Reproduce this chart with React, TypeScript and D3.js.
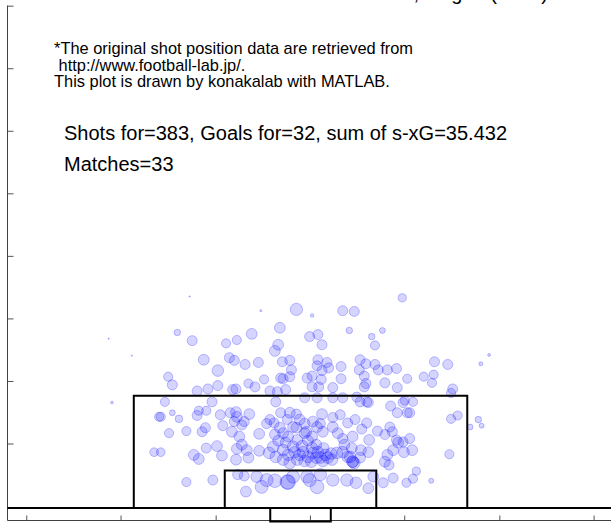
import React from 'react';
import * as d3 from 'd3';

const W = 611;
const H = 523;

// pitch geometry in metres: x measured from the pitch centre line, y from the goal line
const penaltyBox = { halfWidth: 20.16, depth: 16.5 };
const goalArea = { halfWidth: 9.16, depth: 5.5 };
const goalMouth = { halfWidth: 3.66, depth: -2.0 };

const xDomain = [-35.43, 38.0];
const yDomain = [-1.85, 73.9];
const xTicks = [-33.1, -21.7, -10.2, 1.2, 12.6, 24.1, 35.5];
const yTicks = [9.4, 18.6, 27.8, 37.0, 46.2, 55.4, 64.6, 73.8];

const titleText = 'Kashima Antlers, league (2019)';
const noteLines = [
  '*The original shot position data are retrieved from',
  ' http://www.football-lab.jp/.',
  'This plot is drawn by konakalab with MATLAB.',
];
const statLines = ['Shots for=383, Goals for=32, sum of s-xG=35.432', 'Matches=33'];

// shots: [x (m), y (m), s-xG]
const shots: [number, number, number][] = [
  [12.3, 30.9, 0.08], [-0.5, 29.2, 0.18], [5.1, 29.0, 0.12], [6.5, 28.9, 0.12], [1.4, 28.3, 0.015],
  [-4.8, 29.0, 0.005], [-13.4, 31.1, 0.002], [-14.9, 25.8, 0.05], [-13.1, 24.6, 0.12], [-9.0, 24.2, 0.1],
  [-7.7, 24.7, 0.1], [-5.9, 25.6, 0.14], [-2.5, 26.5, 0.14], [-2.7, 24.0, 0.14], [-3.1, 23.1, 0.14],
  [1.1, 25.2, 0.12], [2.1, 25.5, 0.12], [2.6, 24.0, 0.12], [5.9, 26.1, 0.05], [8.6, 25.2, 0.05],
  [9.9, 26.1, 0.04], [9.0, 23.9, 0.1], [22.8, 22.5, 0.01], [21.8, 21.2, 0.02], [-23.2, 24.9, 0.002],
  [-20.4, 22.4, 0.002], [-22.8, 15.5, 0.008], [-11.7, 21.8, 0.14], [-10.0, 20.2, 0.16], [-8.6, 22.1, 0.12],
  [-8.0, 21.7, 0.12], [-6.7, 21.1, 0.12], [-5.1, 21.4, 0.12], [-2.2, 21.5, 0.12], [-1.3, 21.7, 0.12],
  [-1.1, 20.3, 0.12], [2.1, 21.8, 0.12], [2.0, 20.9, 0.12], [3.2, 21.4, 0.12], [3.4, 20.6, 0.12],
  [2.6, 20.2, 0.12], [4.9, 20.8, 0.12], [7.2, 21.8, 0.12], [7.9, 21.2, 0.12], [7.1, 20.3, 0.12],
  [9.0, 21.1, 0.12], [9.4, 20.3, 0.12], [10.5, 20.3, 0.12], [11.6, 20.5, 0.12], [16.2, 21.5, 0.12],
  [17.8, 21.1, 0.12], [-16.0, 19.3, 0.1], [-15.5, 18.1, 0.12], [-12.5, 17.2, 0.12], [-11.2, 17.5, 0.12],
  [-10.0, 18.0, 0.12], [-8.2, 17.4, 0.12], [-7.8, 17.5, 0.12], [-6.3, 18.3, 0.1], [-5.5, 17.8, 0.12],
  [-4.4, 18.9, 0.1], [-3.7, 17.2, 0.12], [-2.8, 17.1, 0.12], [-2.4, 19.1, 0.12], [-2.1, 19.0, 0.12],
  [-1.8, 17.4, 0.12], [-1.3, 19.3, 0.12], [0.8, 19.1, 0.12], [1.4, 19.4, 0.12], [2.5, 18.9, 0.12],
  [2.2, 17.8, 0.12], [1.4, 17.8, 0.12], [3.9, 17.7, 0.12], [4.9, 19.0, 0.12], [7.7, 19.4, 0.12],
  [7.9, 18.3, 0.12], [7.7, 17.8, 0.12], [10.2, 18.4, 0.12], [11.7, 17.7, 0.12], [12.9, 19.0, 0.1],
  [14.9, 19.3, 0.1], [16.1, 19.6, 0.1], [15.9, 18.4, 0.1], [18.4, 17.5, 0.12], [18.2, 16.9, 0.1],
  [-16.4, 15.6, 0.1], [-17.1, 13.4, 0.1], [-16.9, 13.4, 0.1], [-15.5, 14.0, 0.04], [-14.7, 13.1, 0.07],
  [-12.3, 14.3, 0.1], [-12.5, 13.6, 0.12], [-11.4, 14.3, 0.1], [-10.7, 15.6, 0.12], [-9.7, 13.7, 0.12],
  [-8.5, 14.0, 0.12], [-7.8, 14.1, 0.14], [-7.7, 13.4, 0.14], [-8.0, 12.7, 0.12], [-6.2, 13.8, 0.14],
  [-6.8, 12.7, 0.12], [-3.0, 15.6, 0.12], [-2.4, 14.0, 0.12], [-1.3, 14.0, 0.14], [-0.5, 13.8, 0.12],
  [-3.2, 12.5, 0.12], [-1.6, 13.0, 0.12], [0.5, 12.4, 0.14], [1.5, 12.7, 0.14], [2.4, 12.4, 0.12],
  [2.6, 13.8, 0.14], [3.9, 13.3, 0.12], [4.8, 13.7, 0.12], [5.7, 12.5, 0.12], [6.6, 13.0, 0.12],
  [8.0, 12.5, 0.12], [7.2, 15.6, 0.12], [8.0, 15.6, 0.12], [10.9, 15.0, 0.12], [11.7, 14.0, 0.12],
  [13.2, 14.0, 0.12], [13.6, 15.6, 0.1], [12.6, 15.8, 0.1], [18.2, 13.1, 0.1], [19.0, 13.6, 0.1],
  [21.5, 13.0, 0.05], [21.9, 12.1, 0.03], [20.5, 11.9, 0.04], [0.5, 16.2, 0.12], [2.0, 16.2, 0.12],
  [3.9, 16.2, 0.12], [5.1, 16.2, 0.12], [6.8, 16.3, 0.12], [8.2, 15.5, 0.12], [12.4, 15.5, 0.12],
  [12.9, 14.0, 0.12], [-15.9, 11.0, 0.1], [-13.8, 11.3, 0.1], [-11.9, 11.2, 0.12], [-11.5, 11.8, 0.12],
  [-9.4, 12.1, 0.12], [-8.3, 11.2, 0.14], [-7.4, 10.5, 0.14], [-7.1, 12.2, 0.12], [-5.0, 10.9, 0.14],
  [-4.1, 12.4, 0.12], [-3.1, 10.8, 0.14], [-2.1, 11.0, 0.14], [-1.5, 10.5, 0.14], [-0.9, 11.9, 0.14],
  [0.5, 11.0, 0.14], [1.4, 10.5, 0.14], [2.0, 11.9, 0.14], [2.7, 11.2, 0.14], [3.9, 11.9, 0.14],
  [4.5, 11.0, 0.14], [5.1, 10.2, 0.12], [6.3, 10.5, 0.14], [7.4, 11.6, 0.12], [8.3, 10.0, 0.14],
  [9.3, 11.3, 0.12], [10.2, 10.8, 0.12], [10.8, 11.9, 0.12], [11.1, 11.2, 0.12], [11.6, 10.0, 0.12],
  [12.4, 9.7, 0.12], [13.2, 10.2, 0.12], [-17.7, 8.2, 0.09], [-16.9, 8.2, 0.09], [-12.9, 7.8, 0.14],
  [-12.3, 7.2, 0.14], [-11.4, 8.8, 0.12], [-10.1, 9.1, 0.14], [-9.5, 7.7, 0.14], [-7.8, 7.1, 0.14],
  [-7.7, 8.7, 0.14], [-6.5, 8.5, 0.14], [-6.3, 7.4, 0.14], [-7.1, 9.3, 0.14], [-5.0, 8.4, 0.14],
  [-3.8, 8.1, 0.16], [-3.3, 9.0, 0.16], [-3.0, 7.5, 0.16], [-2.1, 8.5, 0.16], [-1.5, 7.8, 0.16],
  [-0.9, 9.0, 0.16], [-0.4, 7.1, 0.16], [0.3, 8.2, 0.16], [0.9, 7.5, 0.16], [1.5, 8.1, 0.16],
  [2.4, 7.4, 0.16], [3.0, 7.8, 0.16], [3.8, 7.1, 0.16], [4.4, 8.1, 0.16], [5.1, 8.2, 0.16],
  [6.0, 7.5, 0.16], [6.5, 6.6, 0.16], [7.3, 8.5, 0.14], [8.2, 8.2, 0.14], [7.2, 7.4, 0.14],
  [10.2, 6.8, 0.14], [10.5, 7.8, 0.14], [11.2, 8.5, 0.14], [11.8, 9.6, 0.14], [12.5, 8.2, 0.14],
  [13.5, 8.5, 0.14], [10.7, 6.3, 0.12], [18.0, 7.9, 0.1], [-13.8, 3.8, 0.1], [-10.6, 4.1, 0.12],
  [-6.6, 2.4, 0.14], [-7.6, 4.9, 0.12], [-6.8, 4.7, 0.12], [-5.3, 4.6, 0.16], [-4.7, 3.1, 0.2],
  [-4.1, 4.1, 0.2], [-3.1, 4.0, 0.22], [-1.6, 3.8, 0.25], [-1.5, 3.8, 0.25], [-0.9, 4.6, 0.2],
  [0.8, 4.6, 0.2], [2.0, 3.1, 0.22], [1.1, 4.1, 0.2], [2.4, 4.9, 0.18], [3.9, 4.1, 0.18],
  [5.6, 4.1, 0.18], [6.7, 3.7, 0.16], [8.2, 2.9, 0.14], [8.8, 4.6, 0.14], [10.0, 3.7, 0.12],
  [11.2, 4.4, 0.12], [12.8, 3.7, 0.1], [13.6, 4.3, 0.1], [14.0, 5.4, 0.08], [15.8, 4.0, 0.03],
  [-0.1, 7.8, 0.16], [0.5, 6.9, 0.16], [1.3, 6.8, 0.16], [1.9, 7.4, 0.16], [2.1, 8.2, 0.16],
  [2.7, 6.9, 0.16], [3.3, 7.4, 0.16], [3.7, 8.0, 0.16], [1.4, 8.8, 0.16], [0.2, 9.1, 0.16],
  [-0.7, 8.2, 0.16], [-2.1, 7.1, 0.16], [-1.3, 6.6, 0.16], [-2.7, 9.9, 0.14], [-1.8, 9.6, 0.14],
  [-0.4, 10.0, 0.14], [0.9, 9.9, 0.14], [1.9, 9.3, 0.14], [2.8, 8.8, 0.14], [-0.5, 11.8, 0.14],
  [-0.1, 13.0, 0.14], [0.7, 11.2, 0.14], [-3.7, 13.0, 0.12], [-2.5, 11.8, 0.14], [5.3, 9.3, 0.14],
  [6.2, 8.8, 0.14], [5.7, 7.5, 0.16], [6.3, 6.8, 0.16], [6.3, 6.8, 0.16],
];

const font = '"Liberation Sans", Arial, sans-serif';

export default function App() {
  const x = d3.scaleLinear().domain(xDomain).range([7.5, 614.8]);
  const y = d3.scaleLinear().domain(yDomain).range([520.5, 5.5]);
  const r = d3.scaleSqrt().domain([0, 1]).range([0, 14.5]);

  const boxPath = (b: { halfWidth: number; depth: number }) => {
    const p = d3.path();
    p.moveTo(x(-b.halfWidth), y(0));
    p.lineTo(x(-b.halfWidth), y(b.depth));
    p.lineTo(x(b.halfWidth), y(b.depth));
    p.lineTo(x(b.halfWidth), y(0));
    return p.toString();
  };

  return (
    <svg
      width={W}
      height={H}
      style={{ position: 'absolute', left: 0, top: 0, background: '#fff' }}
      fontFamily={font}
    >
      <text x={548} y={-0.5} textAnchor="end" fontSize={20} fill="#000">
        {titleText}
      </text>

      {/* axes */}
      <line x1={x(xDomain[0])} x2={x(xDomain[0])} y1={y(yDomain[1])} y2={y(yDomain[0])} stroke="#404040" strokeWidth={1} />
      <line x1={x(xDomain[0])} x2={W} y1={y(yDomain[0])} y2={y(yDomain[0])} stroke="#404040" strokeWidth={1} />
      {yTicks.map((t) => (
        <line key={'yt' + t} x1={x(xDomain[0])} x2={x(xDomain[0]) + 6} y1={y(t)} y2={y(t)} stroke="#555" strokeWidth={1} />
      ))}
      {xTicks.map((t) => (
        <line key={'xt' + t} x1={x(t)} x2={x(t)} y1={y(yDomain[0])} y2={y(yDomain[0]) - 5} stroke="#555" strokeWidth={1} />
      ))}

      {/* shots */}
      <g>
        {shots.map((s, i) => (
          <circle
            key={i}
            cx={x(s[0])}
            cy={y(s[1])}
            r={r(s[2])}
            fill="#0000ff"
            fillOpacity={0.17}
            stroke="#0000ff"
            strokeOpacity={0.3}
            strokeWidth={0.8}
          />
        ))}
      </g>

      {/* pitch markings */}
      <line x1={x(xDomain[0])} x2={W} y1={y(0)} y2={y(0)} stroke="#000" strokeWidth={2} />
      <path d={boxPath(penaltyBox)} fill="none" stroke="#000" strokeWidth={2} />
      <path d={boxPath(goalArea)} fill="none" stroke="#000" strokeWidth={2} />
      <path d={boxPath(goalMouth)} fill="none" stroke="#000" strokeWidth={2} />

      {/* notes */}
      <text x={54} y={54} fontSize={16.4} fill="#000" style={{ whiteSpace: 'pre' }}>
        {noteLines.map((l, i) => (
          <tspan key={i} x={54} dy={i === 0 ? 0 : 16.5}>
            {l}
          </tspan>
        ))}
      </text>
      {statLines.map((l, i) => (
        <text key={l} x={64} y={140 + i * 31} fontSize={20} fill="#000">
          {l}
        </text>
      ))}
    </svg>
  );
}
